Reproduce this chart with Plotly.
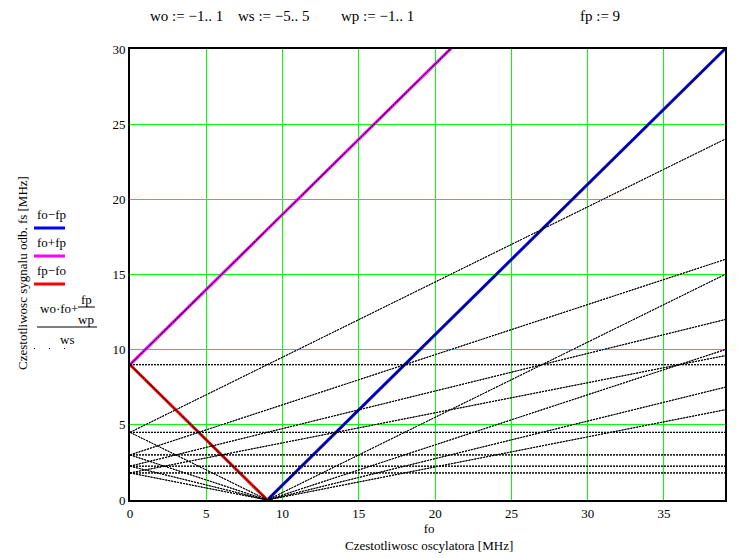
import plotly.graph_objects as go

# Mathcad range variables shown in the header
wo = [-1, 0, 1]
ws = [-5, -4, -3, -2, -1, 1, 2, 3, 4, 5]
wp = [-1, 1]          # wp = 0 gives division by zero (no trace)
fp = 9
fo = [0, 39]          # oscillator frequency range [MHz]

x_ticks = [0, 5, 10, 15, 20, 25, 30, 35]
y_ticks = [0, 5, 10, 15, 20, 25, 30]

FONT = "Liberation Serif"

# page body has an 8px margin: work in screenshot pixels, shift by OFF
OFF = 8
L, R, T, B = 130, 725, 49, 500      # plot area (screenshot px)
W, H = 755 - OFF, 558 - OFF


def px(x):
    return (x - L) / (R - L)


def py(y):
    return (B - y) / (B - T)


fig = go.Figure()

# coloured curves
fig.add_trace(go.Scatter(x=fo, y=[f - fp for f in fo], mode="lines",
                         line=dict(color="#0000ff", width=3), showlegend=False))
fig.add_trace(go.Scatter(x=fo, y=[f + fp for f in fo], mode="lines",
                         line=dict(color="#ff00ff", width=3), showlegend=False))
fig.add_trace(go.Scatter(x=fo, y=[fp - f for f in fo], mode="lines",
                         line=dict(color="#ff0000", width=3), showlegend=False))

# dotted family (wo*fo + fp/wp)/ws
for a in wo:
    for p in wp:
        for s in ws:
            ys = [(a * f + fp / p) / s for f in fo]
            fig.add_trace(go.Scatter(x=fo, y=ys, mode="lines",
                                     line=dict(color="black", width=1, dash="2px,1px"),
                                     showlegend=False, hoverinfo="skip"))

fig.update_layout(
    width=W, height=H,
    margin=dict(l=L - OFF, r=W - (R - OFF), t=T - OFF, b=H - (B - OFF), autoexpand=False),
    paper_bgcolor="white", plot_bgcolor="white",
    font=dict(family=FONT, size=13, color="black"),
    showlegend=False,
)
fig.update_xaxes(range=[0, 39], tickvals=x_ticks, showgrid=True, gridcolor="#00ff00",
                 gridwidth=1, zeroline=False, showline=True, linecolor="black",
                 linewidth=2, mirror=True, ticks="", tickfont=dict(family=FONT, size=13))
fig.update_yaxes(range=[0, 30], tickvals=y_ticks, showgrid=True, gridcolor="#00ff00",
                 gridwidth=1, zeroline=False, showline=True, linecolor="black",
                 linewidth=2, mirror=True, ticks="", tickfont=dict(family=FONT, size=13))

ann = []


def text(xp, yp, s, size=13, xanchor="center", angle=0):
    ann.append(dict(x=px(xp), y=py(yp), xref="paper", yref="paper", text=s,
                    showarrow=False, xanchor=xanchor, yanchor="middle",
                    font=dict(family=FONT, size=size, color="black"), textangle=angle))


# header
text(148, 16, "wo := −1.. 1", size=15, xanchor="left")
text(236, 16, "ws := −5.. 5", size=15, xanchor="left")
text(339, 16, "wp := −1.. 1", size=15, xanchor="left")
text(578, 16, "fp := 9", size=15, xanchor="left")

# axis titles
text(429, 537, "fo<br>Czestotliwosc oscylatora [MHz]")
text(22, 273, "Czestotliwosc sygnalu odb. fs [MHz]", angle=-90)

# legend
text(35, 214, "fo−fp", xanchor="left")
text(35, 242, "fo+fp", xanchor="left")
text(35, 270, "fp−fo", xanchor="left")
text(38, 309, "wo·fo+", xanchor="left")
text(86, 299, "fp")
text(86, 319, "wp")
text(67, 339, "ws")

shapes = []


def hline(x0, x1, y, color, w):
    shapes.append(dict(type="line", xref="paper", yref="paper",
                       x0=px(x0), x1=px(x1), y0=py(y), y1=py(y),
                       line=dict(color=color, width=w)))


hline(34, 65, 228, "#0000ff", 3)
hline(34, 65, 256, "#ff00ff", 3)
hline(34, 65, 284, "#ff0000", 3)
hline(78, 95, 307, "black", 1)
hline(37, 97, 327, "black", 1)
for xd in [34, 49, 64]:
    shapes.append(dict(type="rect", xref="paper", yref="paper",
                       x0=px(xd), x1=px(xd + 1), y0=py(348), y1=py(349),
                       line=dict(width=0), fillcolor="black"))

fig.update_layout(annotations=ann, shapes=shapes)
fig.write_html("out.html")
